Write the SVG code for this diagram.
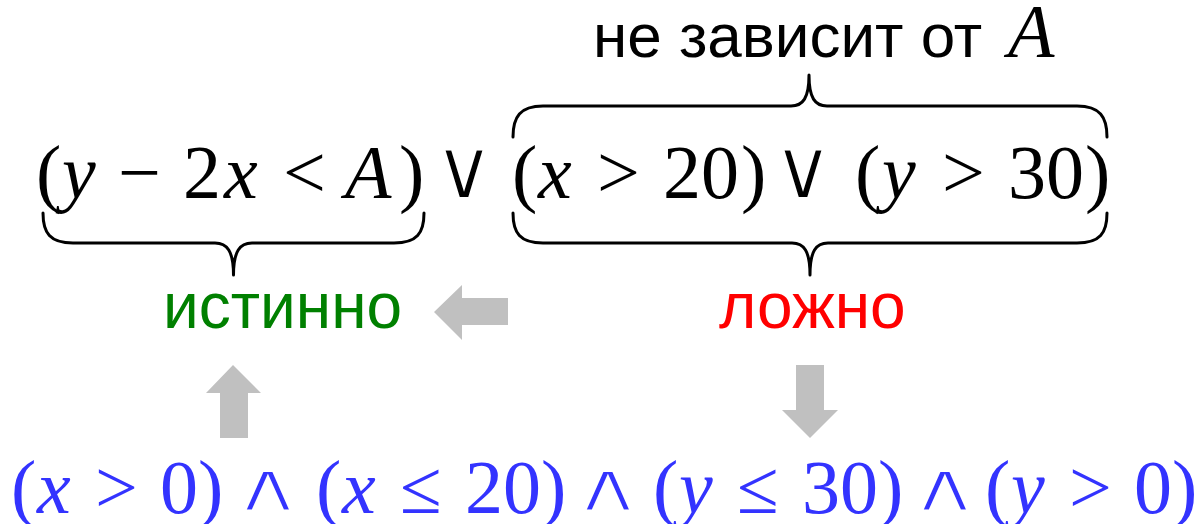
<svg xmlns="http://www.w3.org/2000/svg" width="1202" height="524" viewBox="0 0 1202 524">
<style>
.m{font-family:"Liberation Serif","Times New Roman",serif;font-size:76px}
.i{font-style:italic}
.blk{fill:#000}
.blue{fill:#3333ff}
.or{font-family:"DejaVu Sans",sans-serif;font-size:84px;stroke:#fff;stroke-width:2.2}
.and{font-family:"DejaVu Sans",sans-serif;font-size:70px;stroke:#fff;stroke-width:3}
.lab{font-family:"Liberation Sans",Arial,sans-serif;font-size:64px}
.top{font-family:"Liberation Sans",Arial,sans-serif;font-size:62px}
.brace{fill:none;stroke:#000;stroke-width:3;stroke-linecap:round;stroke-linejoin:round}
.arr{fill:#c0c0c0}
</style>
<rect width="1202" height="524" fill="#fff"/>
<g id="top-label">
<text class="top" x="593" y="57">не зависит от</text>
<text class="m i" x="1008" y="57" font-size="50">A</text>
</g>
<g id="formula-main" class="blk">
<text class="m" y="198"><tspan x="36">(</tspan><tspan class="i" x="62">y</tspan><tspan x="118">−</tspan><tspan x="183">2</tspan><tspan class="i" x="224">x</tspan><tspan x="283">&lt;</tspan><tspan class="i" x="345">A</tspan><tspan x="399">)</tspan></text>
<text class="or" x="464" y="198" text-anchor="middle">∨</text>
<text class="m" y="198"><tspan x="512">(</tspan><tspan class="i" x="538">x</tspan><tspan x="597">&gt;</tspan><tspan x="663">20</tspan><tspan x="741">)</tspan></text>
<text class="or" x="803" y="198" text-anchor="middle">∨</text>
<text class="m" y="198"><tspan x="855">(</tspan><tspan class="i" x="882">y</tspan><tspan x="942">&gt;</tspan><tspan x="1008">30</tspan><tspan x="1085">)</tspan></text>
</g>
<g id="label-true">
<text class="lab" x="163" y="328" fill="#008000">истинно</text>
</g>
<g id="label-false">
<text class="lab" x="719" y="328" fill="#ff0000">ложно</text>
</g>
<g id="formula-bottom" class="blue">
<text class="m" y="513"><tspan x="11">(</tspan><tspan class="i" x="37">x</tspan><tspan x="95">&gt;</tspan><tspan x="160">0</tspan><tspan x="198">)</tspan></text>
<text class="and" transform="translate(268,511) scale(1.45,1)" text-anchor="middle">∧</text>
<text class="m" y="513"><tspan x="316">(</tspan><tspan class="i" x="342">x</tspan><tspan x="400">≤</tspan><tspan x="465">20</tspan><tspan x="541">)</tspan></text>
<text class="and" transform="translate(608,511) scale(1.45,1)" text-anchor="middle">∧</text>
<text class="m" y="513"><tspan x="653">(</tspan><tspan class="i" x="679">y</tspan><tspan x="737">≤</tspan><tspan x="802">30</tspan><tspan x="878">)</tspan></text>
<text class="and" transform="translate(945,511) scale(1.45,1)" text-anchor="middle">∧</text>
<text class="m" y="513"><tspan x="985">(</tspan><tspan class="i" x="1011">y</tspan><tspan x="1069">&gt;</tspan><tspan x="1134">0</tspan><tspan x="1172">)</tspan></text>
</g>
<g id="connectors">
<path class="brace" d="M43,213 C43,233 50,243 73,243 L215,243 C227,243 233.5,251 233.5,275 C233.5,251 240,243 252,243 L394,243 C417,243 424,233 424,213"/>
<path class="brace" d="M513,213 C513,233 520,243 543,243 L792,243 C804,243 810,251 810,275 C810,251 816,243 828,243 L1077,243 C1100,243 1107,233 1107,213"/>
<path class="brace" d="M513,137 C513,117 520,106 543,106 L791,106 C803,106 809,98 809,75 C809,98 815,106 827,106 L1077,106 C1100,106 1107,117 1107,137"/>
<polygon class="arr" points="434,312 462,285 462,298 508,298 508,325 462,325 462,340"/>
<polygon class="arr" points="233,365 261,393 248,393 248,438 220,438 220,393 206,393"/>
<polygon class="arr" points="796,365 824,365 824,410 838,410 810,438 782,410 796,410"/>
</g>
</svg>
